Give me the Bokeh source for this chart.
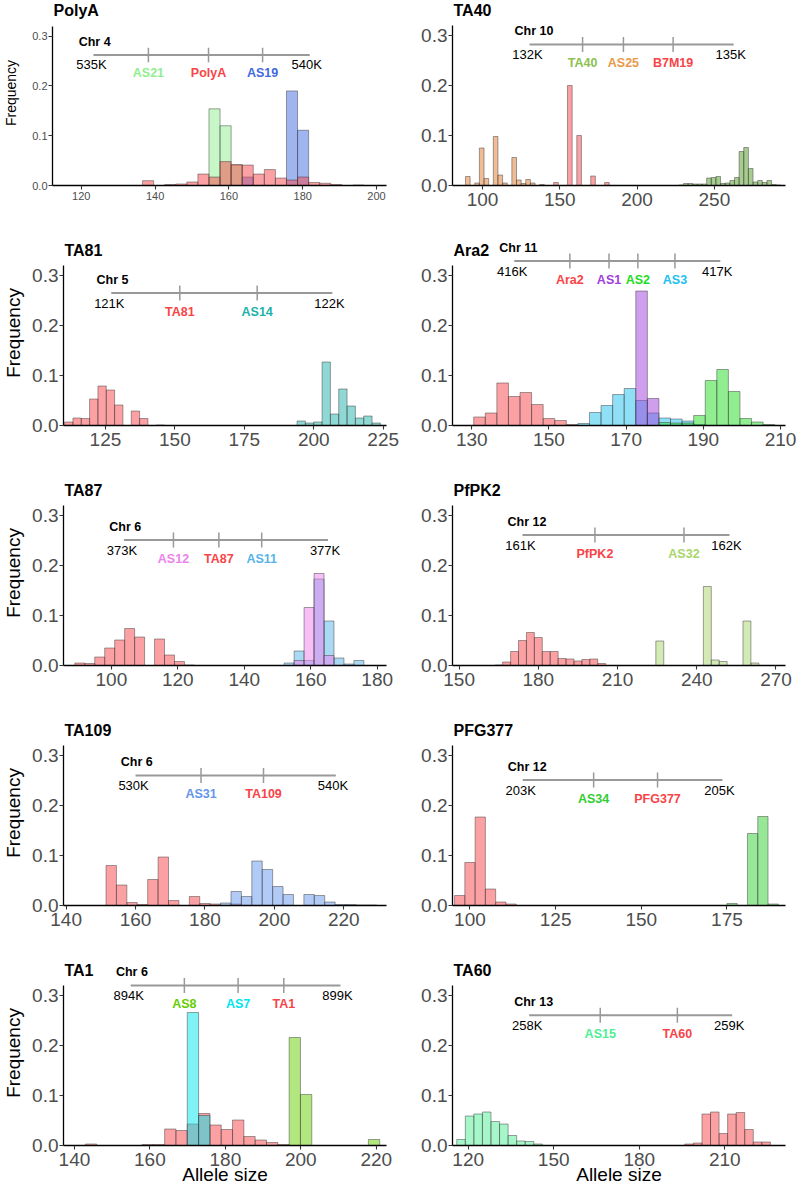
from bokeh.plotting import figure
from bokeh.layouts import column, row
from bokeh.models import ColumnDataSource, FixedTicker, Range1d, NumeralTickFormatter
from bokeh.core.properties import value
from bokeh.embed import file_html
from bokeh.resources import INLINE

FONT = "Liberation Sans"
BIN_W = 3.0
RED = "#F84448"

# ---------------- data: bin heights (relative frequency), first bin left edge ----------------
# PolyA
polya_as21 = [0.154, 0.120, 0.041]
polya_as19 = [0.017, 0.0, 0.0, 0.0, 0.190, 0.111]
polya_polya = [0.0097, 0.0, 0.002, 0.003, 0.007, 0.023, 0.017, 0.048, 0.042, 0.041,
               0.023, 0.032, 0.015, 0.011, 0.017, 0.006, 0.0045, 0.002, 0.0, 0.001]
polya_start = {"AS21": 154.6, "AS19": 163.6, "PolyA": 136.6}
polya_loci = ["AS21", "PolyA", "AS19"]
polya_loci_kb = [536.27, 537.66, 538.91]

# TA40
ta40_as25 = [0.018, 0.0, 0.005, 0.075, 0.014, 0.0, 0.098, 0.021, 0.005, 0.0, 0.056,
             0.011, 0.004, 0.012, 0.005, 0.0, 0.002]
ta40_b7m19 = [0.006, 0.0, 0.0, 0.200, 0.0, 0.100, 0.0, 0.0, 0.019, 0.0, 0.0, 0.006]
ta40_ta40 = [0.001, 0.004, 0.004, 0.003, 0.003, 0.003, 0.015, 0.016, 0.018, 0.004, 0.005,
             0.010, 0.016, 0.068, 0.076, 0.034, 0.007, 0.010, 0.006, 0.010, 0.002, 0.001]
ta40_start = {"AS25": 89.0, "B7M19": 146.0, "TA40": 227.0}
ta40_loci = ["TA40", "AS25", "B7M19"]
ta40_loci_kb = [132.78, 133.38, 134.11]

# TA81
ta81_ta81 = [0.007, 0.015, 0.014, 0.053, 0.079, 0.071, 0.041, 0.0, 0.029, 0.014, 0.0, 0.001]
ta81_as14 = [0.009, 0.005, 0.007, 0.127, 0.023, 0.073, 0.039, 0.015, 0.019, 0.005]
ta81_start = {"TA81": 110.3, "AS14": 194.0}
ta81_loci = ["TA81", "AS14"]
ta81_loci_kb = [121.31, 121.66]

# Ara2
ara2_ara2 = [0.017, 0.025, 0.085, 0.058, 0.066, 0.042, 0.014, 0.010, 0.002]
ara2_as3 = [0.004, 0.026, 0.040, 0.062, 0.074, 0.050, 0.025, 0.015, 0.013, 0.009, 0.002]
ara2_as1 = [0.269, 0.054]
ara2_as2 = [0.006, 0.005, 0.005, 0.020, 0.090, 0.112, 0.068, 0.014, 0.007, 0.002]
ara2_start = {"Ara2": 130.5, "AS3": 157.5, "AS1": 172.5, "AS2": 178.5}
ara2_loci = ["Ara2", "AS1", "AS2", "AS3"]
ara2_loci_kb = [416.27, 416.46, 416.60, 416.78]

# TA87
ta87_ta87 = [0.005, 0.004, 0.017, 0.035, 0.051, 0.074, 0.057, 0.0, 0.053, 0.021, 0.008, 0.001]
ta87_as11 = [0.005, 0.029, 0.010, 0.173, 0.089, 0.015, 0.003, 0.010]
ta87_as12 = [0.010, 0.116, 0.184, 0.020]
ta87_start = {"TA87": 89.0, "AS11": 152.0, "AS12": 155.0}
ta87_loci = ["AS12", "TA87", "AS11"]
ta87_loci_kb = [373.97, 374.86, 375.70]

# PfPK2
pfpk2_pfpk2 = [0.001, 0.007, 0.028, 0.050, 0.066, 0.056, 0.028, 0.028, 0.014, 0.013,
               0.009, 0.012, 0.013, 0.004]
pfpk2_as32 = [0.049, 0.0, 0.0, 0.0, 0.0, 0.0, 0.158, 0.011, 0.008, 0.0, 0.0, 0.089, 0.005]
pfpk2_start = {"PfPK2": 163.5, "AS32": 224.5}
pfpk2_loci = ["PfPK2", "AS32"]
pfpk2_loci_kb = [161.35, 161.78]

# TA109
ta109_ta109 = [0.080, 0.041, 0.006, 0.002, 0.052, 0.097, 0.010, 0.0, 0.018, 0.004, 0.003, 0.0, 0.003]
ta109_as31 = [0.005, 0.028, 0.018, 0.089, 0.072, 0.038, 0.022, 0.0, 0.022, 0.020, 0.007,
              0.002, 0.002, 0.001, 0.001]
ta109_start = {"TA109": 151.5, "AS31": 184.5}
ta109_loci = ["AS31", "TA109"]
ta109_loci_kb = [533.27, 536.39]

# PFG377
pfg377_pfg377 = [0.020, 0.086, 0.177, 0.033, 0.007, 0.003]
pfg377_as34 = [0.004, 0.0, 0.144, 0.178, 0.003]
pfg377_start = {"PFG377": 95.5, "AS34": 175.0}
pfg377_loci = ["AS34", "PFG377"]
pfg377_loci_kb = [203.71, 204.35]

# TA1
ta1_ta1 = [0.003, 0.0, 0.0, 0.0, 0.0, 0.002, 0.002, 0.033, 0.030, 0.043, 0.064, 0.041,
           0.032, 0.051, 0.018, 0.011, 0.006, 0.002]
ta1_as7 = [0.266, 0.060]
ta1_as8 = [0.216, 0.102, 0.0, 0.0, 0.0, 0.0, 0.0, 0.012]
ta1_start = {"TA1": 142.9, "AS7": 169.9, "AS8": 196.9}
ta1_loci = ["AS8", "AS7", "TA1"]
ta1_loci_kb = [895.28, 896.56, 897.65]

# TA60
ta60_as15 = [0.012, 0.059, 0.063, 0.067, 0.048, 0.043, 0.020, 0.009, 0.008, 0.003]
ta60_ta60 = [0.003, 0.005, 0.063, 0.067, 0.024, 0.063, 0.066, 0.032, 0.007, 0.007]
ta60_start = {"AS15": 116.0, "TA60": 196.0}
ta60_loci = ["AS15", "TA60"]
ta60_loci_kb = [258.35, 258.73]

# label colours
COLORS = {
    "PolyA": RED, "AS21": "#90EE90", "AS19": "#4169E1",
    "TA40": "#8CC152", "AS25": "#E8994A", "B7M19": RED,
    "TA81": RED, "AS14": "#20B2AA",
    "Ara2": RED, "AS1": "#A040DD", "AS2": "#22DD22", "AS3": "#20C0F0",
    "TA87": RED, "AS12": "#EE82EE", "AS11": "#56B4E9",
    "PfPK2": RED, "AS32": "#A9D66A",
    "TA109": RED, "AS31": "#6495ED",
    "PFG377": RED, "AS34": "#32CD32",
    "TA1": RED, "AS8": "#66CD00", "AS7": "#00E5EE",
    "TA60": RED, "AS15": "#4EEE94",
}
# bar fills that differ from the label colour
FILL = dict(COLORS)
FILL.update({"TA40": "#4E9A22", "AS25": "#E07A2C"})

PANELS = [
    dict(title="PolyA", chrom="Chr 4", span=(535, 540), loci=polya_loci, loci_kb=polya_loci_kb,
         series=[("AS21", polya_as21), ("AS19", polya_as19), ("PolyA", polya_polya)], start=polya_start,
         xr=(112.2, 202.7), ticks=[120, 140, 160, 180, 200], seg=(123.3, 181.9, 0.262), small=True),
    dict(title="TA40", chrom="Chr 10", span=(132, 135), loci=ta40_loci, loci_kb=ta40_loci_kb,
         series=[("AS25", ta40_as25), ("B7M19", ta40_b7m19), ("TA40", ta40_ta40)], start=ta40_start,
         xr=(80.6, 296.0), ticks=[100, 150, 200, 250], seg=(130.4, 262.5, 0.282)),
    dict(title="TA81", chrom="Chr 5", span=(121, 122), loci=ta81_loci, loci_kb=ta81_loci_kb,
         series=[("TA81", ta81_ta81), ("AS14", ta81_as14)], start=ta81_start,
         xr=(109.9, 226.2), ticks=[125, 150, 175, 200, 225], seg=(127.1, 206.7, 0.265)),
    dict(title="Ara2", chrom="Chr 11", span=(416, 417), loci=ara2_loci, loci_kb=ara2_loci_kb,
         series=[("Ara2", ara2_ara2), ("AS3", ara2_as3), ("AS1", ara2_as1), ("AS2", ara2_as2)],
         start=ara2_start, xr=(125.0, 211.3), ticks=[130, 150, 170, 190, 210], seg=(141.0, 194.4, 0.329)),
    dict(title="TA87", chrom="Chr 6", span=(373, 377), loci=ta87_loci, loci_kb=ta87_loci_kb,
         series=[("TA87", ta87_ta87), ("AS11", ta87_as11), ("AS12", ta87_as12)], start=ta87_start,
         xr=(85.6, 182.8), ticks=[100, 120, 140, 160, 180], seg=(103.8, 165.2, 0.251)),
    dict(title="PfPK2", chrom="Chr 12", span=(161, 162), loci=pfpk2_loci, loci_kb=pfpk2_loci_kb,
         series=[("PfPK2", pfpk2_pfpk2), ("AS32", pfpk2_as32)], start=pfpk2_start,
         xr=(147.5, 273.6), ticks=[150, 180, 210, 240, 270], seg=(174.0, 252.4, 0.261)),
    dict(title="TA109", chrom="Chr 6", span=(530, 540), loci=ta109_loci, loci_kb=ta109_loci_kb,
         series=[("TA109", ta109_ta109), ("AS31", ta109_as31)], start=ta109_start,
         xr=(139.25, 232.3), ticks=[140, 160, 180, 200, 220], seg=(160.0, 217.7, 0.260)),
    dict(title="PFG377", chrom="Chr 12", span=(203, 205), loci=pfg377_loci, loci_kb=pfg377_loci_kb,
         series=[("PFG377", pfg377_pfg377), ("AS34", pfg377_as34)], start=pfg377_start,
         xr=(94.9, 192.1), ticks=[100, 125, 150, 175], seg=(115.4, 173.7, 0.251)),
    dict(title="TA1", chrom="Chr 6", span=(894, 899), loci=ta1_loci, loci_kb=ta1_loci_kb,
         series=[("TA1", ta1_ta1), ("AS7", ta1_as7), ("AS8", ta1_as8)], start=ta1_start,
         xr=(137.1, 222.7), ticks=[140, 160, 180, 200, 220], seg=(154.9, 210.5, 0.320)),
    dict(title="TA60", chrom="Chr 13", span=(258, 259), loci=ta60_loci, loci_kb=ta60_loci_kb,
         series=[("AS15", ta60_as15), ("TA60", ta60_ta60)], start=ta60_start,
         xr=(114.5, 231.3), ticks=[120, 150, 180, 210], seg=(141.4, 212.6, 0.2605)),
]

# ---------------- layout ----------------
LEFT_W, RIGHT_W = 406, 391
ROW_H = [240, 240, 240, 240, 227]
TICK_COL = "#4D4D4D"


def build(panel, col, r):
    small = panel.get("small", False)
    last = (r == 4)
    if col == 0:
        width, bl, br = LEFT_W, (48 if small else 57), 20
    else:
        width, bl, br = RIGHT_W, 46, 12
    height = ROW_H[r]
    px_per_unit = 516.7 if small else 500.0
    frame_h = 192 if small else 185
    bb = height - frame_h
    ytop = frame_h / px_per_unit
    frame_w = width - bl - br
    x0, x1 = panel["xr"]
    dx_px = (x1 - x0) / frame_w
    dy_px = 1.0 / px_per_unit

    p = figure(width=width, height=height, x_range=Range1d(x0, x1), y_range=Range1d(0, ytop),
               output_backend="svg", toolbar_location=None,
               min_border_left=bl, min_border_right=br, min_border_top=0, min_border_bottom=bb)
    p.outline_line_color = None
    p.xgrid.visible = False
    p.ygrid.visible = False
    p.background_fill_color = "white"
    p.border_fill_color = "white"

    # histogram bars
    for name, heights in panel["series"]:
        s0 = panel["start"][name]
        lefts, rights, tops = [], [], []
        for i, h in enumerate(heights):
            if h > 0:
                lefts.append(s0 + i * BIN_W)
                rights.append(s0 + (i + 1) * BIN_W)
                tops.append(h)
        src = ColumnDataSource(dict(left=lefts, right=rights, top=tops, bottom=[0] * len(tops)))
        p.quad(left="left", right="right", top="top", bottom="bottom", source=src,
               fill_color=FILL[name], fill_alpha=0.5, line_color="#333333", line_alpha=0.45,
               line_width=1)

    # chromosome map
    sx0, sx1, sy = panel["seg"]
    kb0, kb1 = panel["span"]
    p.segment(x0=[sx0], y0=[sy], x1=[sx1], y1=[sy], line_color="#999999", line_width=2)
    gx = [sx0 + (k - kb0) / (kb1 - kb0) * (sx1 - sx0) for k in panel["loci_kb"]]
    p.segment(x0=gx, y0=[sy - 7.5 * dy_px] * len(gx), x1=gx, y1=[sy + 7.5 * dy_px] * len(gx),
              line_color="#999999", line_width=1.5)
    p.text(x=[sx0 - 15 * dx_px], y=[sy + 13.5 * dy_px], text=[panel["chrom"]],
           text_font=value(FONT), text_font_size=value("12.5px"), text_font_style="bold",
           text_color="black", text_align="left", text_baseline="middle")
    p.text(x=[sx0 - 2 * dx_px, sx1 - 3 * dx_px], y=[sy - 10 * dy_px] * 2,
           text=[f"{kb0}K", f"{kb1}K"],
           text_font=value(FONT), text_font_size=value("13px"), text_color="black",
           text_align="center", text_baseline="middle")
    lsrc = ColumnDataSource(dict(x=gx, y=[sy - 18.5 * dy_px] * len(gx), text=panel["loci"],
                                 c=[COLORS[n] for n in panel["loci"]]))
    p.text(x="x", y="y", text="text", text_color="c", source=lsrc,
           text_font=value(FONT), text_font_size=value("12.5px"), text_font_style="bold",
           text_align="center", text_baseline="middle")

    # title
    ty = 0.352 if small else 0.351
    p.text(x=[x0 + 1 * dx_px], y=[ty], text=[panel["title"]], text_font=value(FONT),
           text_font_size=value("16px"), text_font_style="bold", text_color="black",
           text_align="left", text_baseline="middle")

    # axes
    tick_fs = "11px" if small else "19px"
    p.xaxis.ticker = FixedTicker(ticks=panel["ticks"])
    p.yaxis.ticker = FixedTicker(ticks=[0.0, 0.1, 0.2, 0.3])
    p.yaxis.formatter = NumeralTickFormatter(format="0.0")
    p.yaxis.bounds = (0, 0.32)
    for ax in (p.xaxis[0], p.yaxis[0]):
        ax.axis_line_color = "black"
        ax.axis_line_width = 1.3
        ax.major_tick_line_color = "#333333"
        ax.major_tick_line_width = 1.1
        ax.major_tick_out = 4
        ax.major_tick_in = 0
        ax.minor_tick_line_color = None
        ax.major_label_text_font = FONT
        ax.major_label_text_font_size = tick_fs
        ax.major_label_text_color = TICK_COL
        ax.axis_label_text_font = FONT
        ax.axis_label_text_font_style = "normal"
        ax.axis_label_text_color = "black"
    p.yaxis.major_label_standoff = 1
    p.xaxis.major_label_standoff = 2 if small else 3
    if col == 0:
        p.yaxis.axis_label = "Frequency"
        p.yaxis.axis_label_text_font_size = "14px" if small else "19px"
        p.yaxis.axis_label_standoff = 10 if small else 5
    if last:
        p.xaxis.axis_label = "Allele size"
        p.xaxis.axis_label_text_font_size = "19px"
        p.xaxis.axis_label_standoff = -5
    return p


rows = []
for r in range(5):
    left = build(PANELS[2 * r], 0, r)
    right = build(PANELS[2 * r + 1], 1, r)
    rows.append(row(left, right))

layout = column(*rows)
open("out.html", "w").write(file_html(layout, INLINE))
